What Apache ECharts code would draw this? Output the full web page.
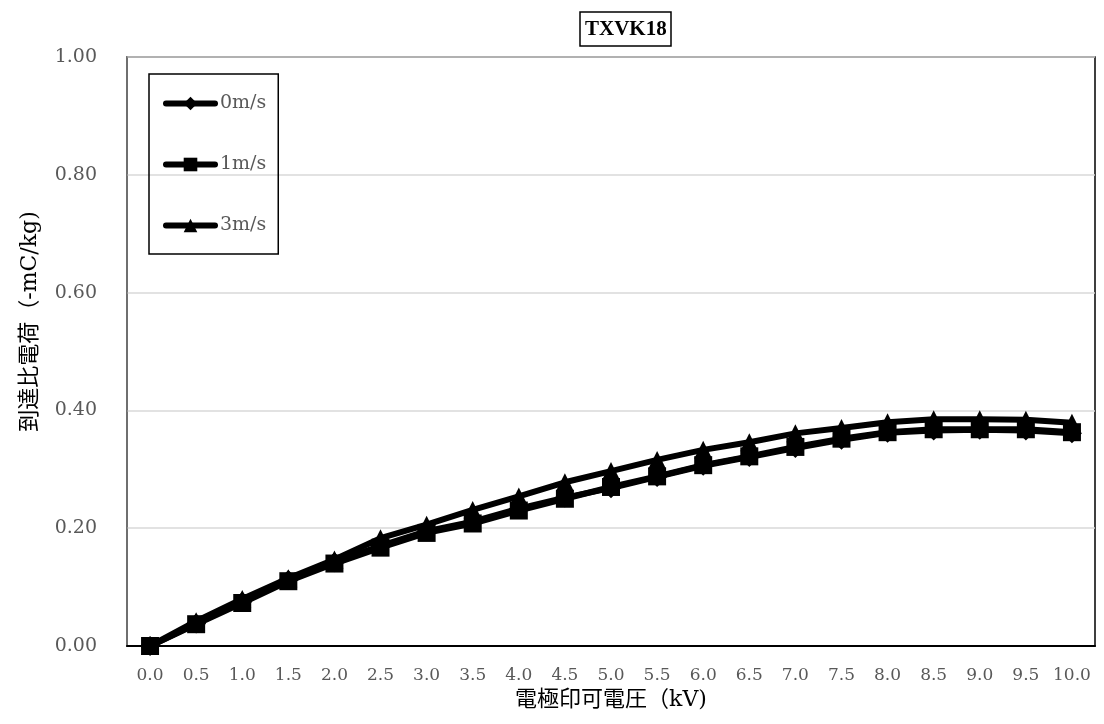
<!DOCTYPE html>
<html><head><meta charset="utf-8">
<script src="https://cdn.jsdelivr.net/npm/echarts@6/dist/echarts.min.js"></script>
<style>html,body{margin:0;padding:0;background:#fff}#c{width:1104px;height:724px}</style>
</head><body><div id="c"></div>
<script>
const categories = ['0.0','0.5','1.0','1.5','2.0','2.5','3.0','3.5','4.0','4.5','5.0','5.5','6.0','6.5','7.0','7.5','8.0','8.5','9.0','9.5','10.0'];
const seriesNames = ['0m/s','1m/s','3m/s'];
const v0 = [0, 0.038, 0.075, 0.112, 0.142, 0.170, 0.195, 0.211, 0.233, 0.252, 0.268, 0.287, 0.306, 0.321, 0.336, 0.350, 0.362, 0.366, 0.367, 0.366, 0.361];
const v1 = [0, 0.037, 0.073, 0.110, 0.140, 0.167, 0.192, 0.208, 0.230, 0.250, 0.270, 0.288, 0.307, 0.322, 0.338, 0.352, 0.363, 0.368, 0.368, 0.368, 0.363];
const v3 = [0, 0.042, 0.080, 0.115, 0.147, 0.183, 0.206, 0.231, 0.254, 0.278, 0.297, 0.316, 0.333, 0.346, 0.361, 0.370, 0.380, 0.385, 0.385, 0.384, 0.379];
const yMin = 0, yMax = 1, yStep = 0.2;
const title = 'TXVK18';
const xName = '電極印可電圧（kV)';
const yName = '到達比電荷（-mC/kg)';

const serif = "'DejaVu Serif', 'Liberation Serif', serif";
const nameFont = "'DejaVu Serif', 'Noto Sans CJK JP', serif";
const chart = echarts.init(document.getElementById('c'), null, {renderer: 'canvas'});
function mk(name, data, symbol, size) {
  return {
    name, type: 'line', data, symbol, symbolSize: size, showAllSymbol: true,
    lineStyle: {color: '#000', width: 6},
    itemStyle: {color: '#000'},
    emphasis: {disabled: true}, animation: false
  };
}
chart.setOption({
  animation: false,
  backgroundColor: '#fff',
  title: {
    text: title, left: 580, top: 12,
    padding: [7, 5, 6, 5],
    borderColor: '#000', borderWidth: 1.5,
    textStyle: {fontFamily: "'Liberation Serif', serif", fontSize: 21, fontWeight: 'bold', color: '#000'}
  },
  grid: {left: 127, right: 9, top: 57, bottom: 78, show: true, borderColor: '#000', borderWidth: 1.5, containLabel: false},
  legend: {
    orient: 'vertical', left: 149, top: 74,
    padding: [20, 12, 19, 14],
    borderColor: '#000', borderWidth: 1.5,
    itemWidth: 49, itemHeight: 17, itemGap: 42, textGap: 7,
    lineStyle: {width: 6, cap: 'round'},
    data: seriesNames,
    textStyle: {fontFamily: serif, fontSize: 19, color: '#595959'}
  },
  xAxis: {
    type: 'category', data: categories, boundaryGap: true,
    name: xName, nameLocation: 'middle', nameGap: 42,
    nameTextStyle: {fontFamily: nameFont, fontSize: 22, color: '#000'},
    axisLine: {show: true, lineStyle: {color: '#000', width: 2}},
    axisTick: {show: false},
    axisLabel: {fontFamily: serif, fontSize: 17, color: '#595959', margin: 21, interval: 0}
  },
  yAxis: {
    type: 'value', min: yMin, max: yMax, interval: yStep,
    name: yName, nameLocation: 'middle', nameGap: 86,
    nameTextStyle: {fontFamily: nameFont, fontSize: 22, color: '#000', padding: [0, 0, 0, 60]},
    axisLine: {show: true, lineStyle: {color: '#808080', width: 1.5}},
    axisTick: {show: false},
    splitLine: {lineStyle: {color: '#d9d9d9', width: 1.5}},
    axisLabel: {fontFamily: serif, fontSize: 19, color: '#595959', margin: 30, formatter: v => v.toFixed(2)}
  },
  series: [
    mk(seriesNames[0], v0, 'diamond', 20),
    mk(seriesNames[1], v1, 'rect', 18),
    mk(seriesNames[2], v3, 'triangle', 18)
  ]
});
</script></body></html>
